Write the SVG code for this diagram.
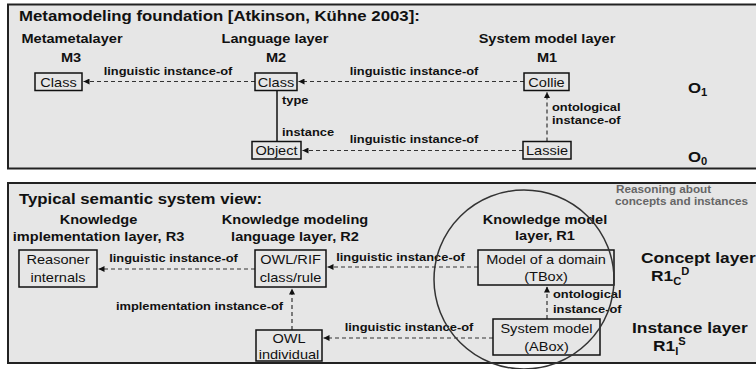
<svg xmlns="http://www.w3.org/2000/svg" width="756" height="369" viewBox="0 0 756 369">
<style>
.b{font-family:"Liberation Sans",Arial,sans-serif;font-weight:bold;fill:#111}
.r{font-family:"Liberation Sans",Arial,sans-serif;fill:#111;font-size:13px}
.t{font-size:15px}
.h{font-size:13px}
.e{font-size:11.5px}
.g{font-size:10.5px;fill:#666}
.L{font-size:15.5px}
.c{text-anchor:middle}
.panel{fill:#e6e6e6;stroke:#222;stroke-width:2}
.box{fill:#e6e6e6;stroke:#111;stroke-width:1.5}
.dash{stroke:#333;stroke-width:1.2;stroke-dasharray:4 3;fill:none}
.solid{stroke:#111;stroke-width:1.5;fill:none}
</style>
<defs>
<marker id="ah" markerUnits="userSpaceOnUse" markerWidth="7" markerHeight="6" refX="6" refY="3" orient="auto">
<path d="M0,0 L6,3 L0,6 z" fill="#111"/>
</marker>
</defs>
<rect width="756" height="369" fill="#fff"/>
<g id="panel-top">
<rect class="panel" x="8" y="4.5" width="760" height="164"/>
<text class="b t" transform="matrix(1.12 0 0 1 19 20.5)">Metamodeling foundation [Atkinson, Kühne 2003]:</text>
<text class="b h c" transform="matrix(1.12 0 0 1 72 43)">Metametalayer</text>
<text class="b h c" transform="matrix(1.12 0 0 1 71 61.5)">M3</text>
<text class="b h c" transform="matrix(1.12 0 0 1 275 43)">Language layer</text>
<text class="b h c" transform="matrix(1.12 0 0 1 276 61.5)">M2</text>
<text class="b h c" transform="matrix(1.12 0 0 1 547 43)">System model layer</text>
<text class="b h c" transform="matrix(1.12 0 0 1 547 61.5)">M1</text>
<text class="b t" transform="matrix(1.12 0 0 1 688 92.5)">O<tspan font-size="10" dy="3.5">1</tspan></text>
<text class="b t" transform="matrix(1.12 0 0 1 688 161.5)">O<tspan font-size="10" dy="3.5">0</tspan></text>
</g>
<g id="panel-bottom">
<rect class="panel" x="8" y="183" width="760" height="180"/>
<text class="b t" transform="matrix(1.12 0 0 1 19 203.5)">Typical semantic system view:</text>
<text class="b h c" transform="matrix(1.12 0 0 1 98.5 223.5)">Knowledge</text>
<text class="b h c" transform="matrix(1.12 0 0 1 98.5 240.5)">implementation layer, R3</text>
<text class="b h c" transform="matrix(1.12 0 0 1 295 223.5)">Knowledge modeling</text>
<text class="b h c" transform="matrix(1.12 0 0 1 295 240.5)">language layer, R2</text>
<text class="b h c" transform="matrix(1.12 0 0 1 545 224)">Knowledge model</text>
<text class="b h c" transform="matrix(1.12 0 0 1 545 240)">layer, R1</text>
<text class="b g" transform="matrix(1.12 0 0 1 616 193)">Reasoning about</text>
<text class="b g" transform="matrix(1.12 0 0 1 615 205)">concepts and instances</text>
<text class="b L" transform="matrix(1.12 0 0 1 641 263)">Concept layer</text>
<text class="b L" transform="matrix(1.12 0 0 1 651 281)">R1<tspan font-size="10" dy="4">C</tspan><tspan font-size="10" dy="-10">D</tspan></text>
<text class="b L" transform="matrix(1.12 0 0 1 632 333)">Instance layer</text>
<text class="b L" transform="matrix(1.12 0 0 1 653 351)">R1<tspan font-size="10" dy="4">I</tspan><tspan font-size="10" dy="-10">S</tspan></text>
</g>
<g id="connectors">
<path class="dash" d="M255 81.5 H83.5" marker-end="url(#ah)"/>
<path class="dash" d="M524 81.5 H298.5" marker-end="url(#ah)"/>
<path class="dash" d="M523 150.5 H302.5" marker-end="url(#ah)"/>
<path class="solid" d="M277 90.5 V141.5"/>
<path class="dash" d="M547 141.5 V92" marker-end="url(#ah)"/>
<path class="dash" d="M255 269 H98.5" marker-end="url(#ah)"/>
<path class="dash" d="M478 267 H327.5" marker-end="url(#ah)"/>
<path class="dash" d="M493 338 H323.5" marker-end="url(#ah)"/>
<path class="dash" d="M292 330 V288.5" marker-end="url(#ah)"/>
<path class="dash" d="M547 319 V286.5" marker-end="url(#ah)"/>
<text class="b e c" transform="matrix(1.12 0 0 1 168 75)">linguistic instance-of</text>
<text class="b e c" transform="matrix(1.12 0 0 1 414 75)">linguistic instance-of</text>
<text class="b e c" transform="matrix(1.12 0 0 1 414 143)">linguistic instance-of</text>
<text class="b e" transform="matrix(1.12 0 0 1 282 104)">type</text>
<text class="b e" transform="matrix(1.12 0 0 1 282 135.5)">instance</text>
<text class="b e" transform="matrix(1.12 0 0 1 552 110.5)">ontological</text>
<text class="b e" transform="matrix(1.12 0 0 1 552 124)">instance-of</text>
<text class="b e c" transform="matrix(1.12 0 0 1 173.5 262)">linguistic instance-of</text>
<text class="b e c" transform="matrix(1.12 0 0 1 400.5 260.5)">linguistic instance-of</text>
<text class="b e c" transform="matrix(1.12 0 0 1 409 331)">linguistic instance-of</text>
<text class="b e c" transform="matrix(1.12 0 0 1 199.5 310)">implementation instance-of</text>
<text class="b e" transform="matrix(1.12 0 0 1 553 298)">ontological</text>
<text class="b e" transform="matrix(1.12 0 0 1 553 313)">instance-of</text>
</g>
<g id="m3-class">
<rect class="box" x="35" y="73" width="47" height="17.5"/>
<text class="r c" transform="matrix(1.12 0 0 1 58.5 86.5)">Class</text>
</g>
<g id="m2-class">
<rect class="box" x="255" y="73" width="42" height="17.5"/>
<text class="r c" transform="matrix(1.12 0 0 1 276 86.5)">Class</text>
</g>
<g id="m1-collie">
<rect class="box" x="524" y="73" width="45" height="17.5"/>
<text class="r c" transform="matrix(1.12 0 0 1 546.5 86.5)">Collie</text>
</g>
<g id="m2-object">
<rect class="box" x="252" y="141.5" width="49" height="17.5"/>
<text class="r c" transform="matrix(1.12 0 0 1 276.5 155)">Object</text>
</g>
<g id="m1-lassie">
<rect class="box" x="523" y="141.5" width="48" height="17.5"/>
<text class="r c" transform="matrix(1.12 0 0 1 547 155)">Lassie</text>
</g>
<g id="reasoner-internals">
<rect class="box" x="19" y="250" width="78" height="37"/>
<text class="r c" transform="matrix(1.12 0 0 1 58 264)">Reasoner</text>
<text class="r c" transform="matrix(1.12 0 0 1 58 281.5)">internals</text>
</g>
<g id="owl-rif">
<rect class="box" x="255" y="250" width="71" height="37"/>
<text class="r c" transform="matrix(1.12 0 0 1 290.5 264)">OWL/RIF</text>
<text class="r c" transform="matrix(1.12 0 0 1 290.5 281.5)">class/rule</text>
</g>
<g id="owl-individual">
<rect class="box" x="256" y="330" width="66" height="31"/>
<text class="r c" transform="matrix(1.12 0 0 1 289 342.5)">OWL</text>
<text class="r c" transform="matrix(1.12 0 0 1 289 358.5)">individual</text>
</g>
<g id="tbox">
<rect class="box" x="478" y="250" width="136" height="35"/>
<text class="r c" transform="matrix(1.12 0 0 1 546 263.5)">Model of a domain</text>
<text class="r c" transform="matrix(1.12 0 0 1 546 281)">(TBox)</text>
</g>
<g id="abox">
<rect class="box" x="493" y="319" width="107" height="36"/>
<text class="r c" transform="matrix(1.12 0 0 1 546.5 333)">System model</text>
<text class="r c" transform="matrix(1.12 0 0 1 546.5 351)">(ABox)</text>
</g>
<g id="reasoning-ellipse">
<ellipse cx="524" cy="279.5" rx="90" ry="89.5" fill="none" stroke="#333" stroke-width="1.5"/>
</g>
</svg>
